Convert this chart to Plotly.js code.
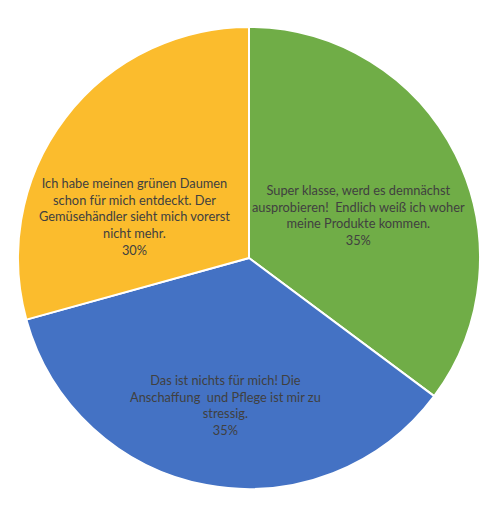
<!DOCTYPE html>
<html>
<head>
<meta charset="utf-8">
<script src="https://cdn.plot.ly/plotly-3.0.1.min.js"></script>
<style>html,body{margin:0;padding:0;background:#fff;}</style>
</head>
<body>
<div id="myDiv" style="width:495px;height:514px;"></div>
<script>
// answers, in the order they go round the pie (clockwise from 12 o'clock)
var labels = [
  'Super klasse, werd es demnächst<br>ausprobieren!  Endlich weiß ich woher<br>meine Produkte kommen.',
  'Das ist nichts für mich! Die<br>Anschaffung  und Pflege ist mir zu<br>stressig.',
  'Ich habe meinen grünen Daumen<br>schon für mich entdeckt. Der<br>Gemüsehändler sieht mich vorerst<br>nicht mehr.'
];
var shares = [35.2, 35.5, 29.3];
var pctText = ['35%', '35%', '30%'];
var colors = ['#70AD47', '#4472C4', '#FBBC2D'];

// where each data label sits (paper fraction), like Excel put them
var labelX = [0.736, 0.450, 0.252];
var labelY = [0.592, 0.182, 0.589];

var trace = {
  type: 'pie',
  labels: labels,
  values: shares,
  sort: false,
  direction: 'clockwise',
  rotation: 0,
  textinfo: 'none',
  hoverinfo: 'none',
  marker: {colors: colors, line: {color: '#ffffff', width: 2}}
};

var annotations = labels.map(function(l, i) {
  return {
    xref: 'paper', yref: 'paper',
    x: labelX[i], y: labelY[i],
    xanchor: 'center', yanchor: 'middle',
    showarrow: false,
    align: 'center',
    text: l + '<br>' + pctText[i],
    font: {family: 'Lato, sans-serif', size: 12.8, color: '#404040'}
  };
});

var layout = {
  width: 495,
  height: 514,
  showlegend: false,
  paper_bgcolor: '#ffffff',
  margin: {l: 18, r: 15, t: 27, b: 25},
  annotations: annotations
};

Plotly.newPlot('myDiv', [trace], layout, {staticPlot: true});
</script>
</body>
</html>
